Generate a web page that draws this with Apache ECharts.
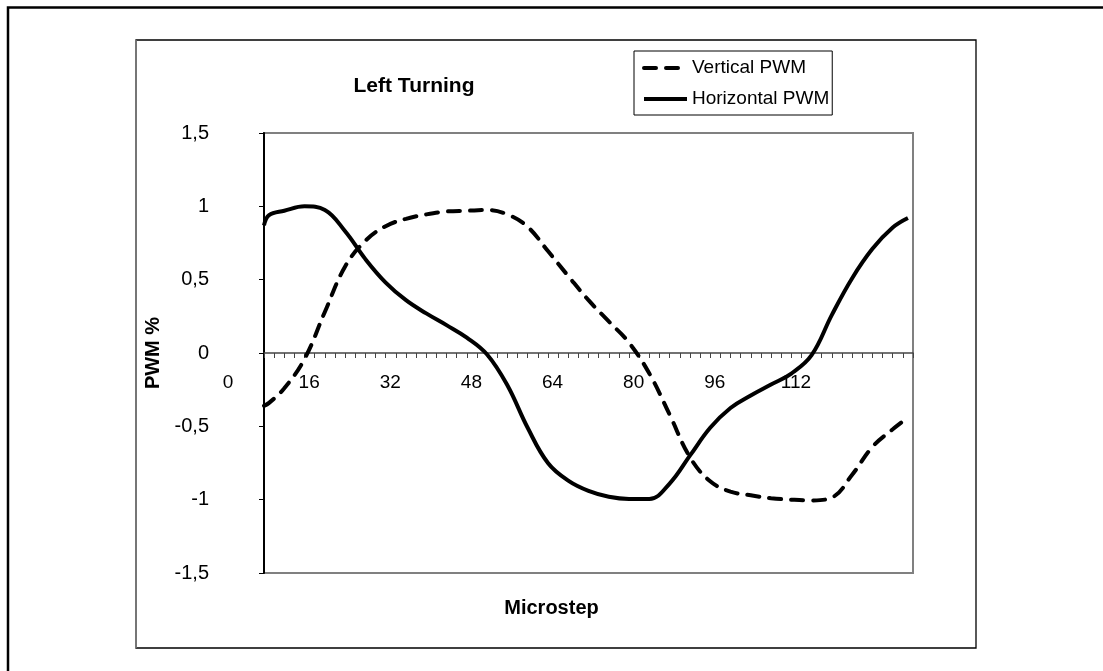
<!DOCTYPE html>
<html><head><meta charset="utf-8">
<script src="https://cdn.jsdelivr.net/npm/echarts@6/dist/echarts.min.js"></script>
<style>html,body{margin:0;padding:0;background:#fff}#c{width:1103px;height:671px}</style>
</head><body><div id="c"></div>
<script>
const microsteps = [0,1,4,8,12,16,20,24,28,32,36,40,44,48,52,56,60,64,68,72,76,80,84,88,92,96,100,104,108,112,116,120,124,127];
const verticalPWM = [-0.36,-0.34,-0.24,-0.04,0.28,0.59,0.765,0.865,0.915,0.945,0.965,0.97,0.975,0.945,0.86,0.695,0.525,0.36,0.215,0.07,-0.14,-0.42,-0.71,-0.875,-0.945,-0.97,-0.99,-1.0,-1.005,-0.985,-0.83,-0.64,-0.52,-0.44];
const horizontalPWM = [0.87,0.94,0.97,1.0,0.975,0.83,0.64,0.48,0.36,0.27,0.19,0.105,-0.01,-0.22,-0.51,-0.75,-0.87,-0.94,-0.98,-0.995,-0.995,-0.89,-0.70,-0.51,-0.375,-0.29,-0.215,-0.14,-0.015,0.26,0.51,0.71,0.855,0.92];
const xLabelValues = [0,16,32,48,64,80,96,112];
const seriesNames = ['Vertical PWM','Horizontal PWM'];

const FONT = '"Liberation Sans", Arial, Helvetica, sans-serif';
const chart = echarts.init(document.getElementById('c'), null, {renderer:'canvas'});
const pairs = vals => microsteps.map((m,i)=>[m, vals[i]]);

chart.setOption({
  animation: false,
  backgroundColor: '#fff',
  textStyle: {fontFamily: FONT, color: '#000'},
  graphic: [
    {type:'polyline', shape:{points:[[8,671],[8,7.5],[1103,7.5]]}, style:{stroke:'#000', lineWidth:2.5, fill:null}, silent:true},
    {type:'rect', shape:{x:136, y:40, width:840, height:608}, style:{stroke:'#000', lineWidth:1.3, fill:null}, silent:true},
    {type:'line', shape:{x1:136, y1:40, x2:136, y2:648}, style:{stroke:'#808080', lineWidth:1.5}, silent:true}
  ],
  title: {
    text: 'Left Turning', left: 414, top: 76, textAlign: 'center', padding: 0,
    textStyle: {fontFamily: FONT, fontSize: 21, fontWeight: 'bold', color: '#000'}
  },
  legend: {
    data: seriesNames,
    orient: 'vertical', left: 634, top: 51,
    padding: [6, 3, 5, 8],
    itemWidth: 43, itemHeight: 14, itemGap: 9,
    borderColor: '#000', borderWidth: 1,
    textStyle: {fontFamily: FONT, fontSize: 19, color: '#000', lineHeight: 22},
    itemStyle: {opacity: 0, borderWidth: 0},
    lineStyle: {width: 4, opacity: 1}
  },
  grid: {left: 264, top: 133, width: 649, height: 440, show: true, borderColor: '#808080', borderWidth: 2, backgroundColor: 'transparent', containLabel: false, outerBoundsMode: 'none'},
  xAxis: {
    type: 'value', min: 0, max: 128, interval: 16,
    axisLine: {onZero: true, lineStyle: {color: '#444', width: 1.5}},
    axisTick: {show: true, length: 5, lineStyle: {color: '#444', width: 1}},
    minorTick: {show: true, splitNumber: 8, length: 5, lineStyle: {color: '#444', width: 1}},
    splitLine: {show: false},
    axisLabel: {
      fontFamily: FONT, fontSize: 19, color: '#000', margin: -200, padding: [0, 72, 0, 0],
      formatter: v => xLabelValues.includes(v) ? String(v) : ''
    },
    name: 'Microstep', nameLocation: 'middle', nameGap: 25,
    nameTextStyle: {fontFamily: FONT, fontSize: 20, fontWeight: 'bold', color: '#000', padding: [0, 74, 0, 0]}
  },
  yAxis: {
    type: 'value', min: -1.5, max: 1.5, interval: 0.5,
    axisLine: {show: true, lineStyle: {color: '#000', width: 2}},
    axisTick: {show: true, length: 5, lineStyle: {color: '#000', width: 1}},
    splitLine: {show: false},
    axisLabel: {fontFamily: FONT, fontSize: 20, color: '#000', margin: 55, formatter: v => String(v).replace('.', ',')},
    name: 'PWM %', nameLocation: 'middle', nameRotate: 90, nameGap: 101,
    nameTextStyle: {fontFamily: FONT, fontSize: 20, fontWeight: 'bold', color: '#000'}
  },
  series: [
    {name: seriesNames[0], type: 'line', data: pairs(verticalPWM), smooth: 0.4, symbol: 'none', color: '#000',
     lineStyle: {color: '#000', width: 4, type: [12, 10], cap: 'round'}},
    {name: seriesNames[1], type: 'line', data: pairs(horizontalPWM), smooth: 0.4, symbol: 'none', color: '#000',
     lineStyle: {color: '#000', width: 4, type: 'solid'}}
  ]
});
</script></body></html>
